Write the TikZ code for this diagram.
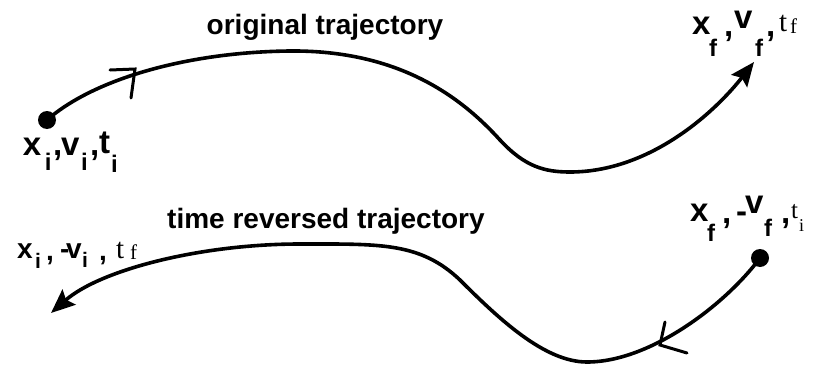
\documentclass[tikz,border=0pt]{standalone}
\usepackage{fontspec}
\setsansfont{Liberation Sans}
\newfontfamily\serfam{Liberation Serif}
\usetikzlibrary{arrows.meta}
\newcommand\BigB{\fontsize{33}{33}\selectfont\sffamily\bfseries}
\newcommand\MidB{\fontsize{28}{28}\selectfont\sffamily\bfseries}
\newcommand\SubB{\fontsize{24}{24}\selectfont\sffamily\bfseries}
\newcommand\SubS{\fontsize{21}{21}\selectfont\sffamily\bfseries}
\newcommand\SerT{\fontsize{29}{29}\selectfont\serfam}
\newcommand\SerM{\fontsize{25}{25}\selectfont\serfam}
\newcommand\SerS{\fontsize{21}{21}\selectfont\serfam}
\newcommand\SerXS{\fontsize{18}{18}\selectfont\serfam}
\tikzset{
  gly/.style={anchor=base west, inner sep=0pt, outer sep=0pt},
  ttl/.style={anchor=base, inner sep=0pt, font=\fontsize{28}{28}\selectfont\sffamily\bfseries},
  traj/.style={line width=3.6pt, line cap=round},
  tiptraj/.style={traj, -{Stealth[length=24pt,width=20pt,inset=4pt]}},
  chev/.style={line width=3pt, line cap=round, line join=miter},
  dotn/.style={circle, fill=black, minimum size=18pt, inner sep=0pt}
}
\begin{document}
\begin{tikzpicture}[x=1pt,y=-1pt]
\useasboundingbox (0,0) rectangle (823,367);
% titles
\node[ttl] (t1) at (325,34) {original trajectory};
\node[ttl] (t2) at (326,228) {time reversed trajectory};
% dots and end points
\node[dotn] (d1) at (47,120) {};
\node[dotn] (d2) at (760,258) {};
\coordinate (e1) at (754,62);
\coordinate (e2) at (51,313);
% original trajectory
\draw[tiptraj] (d1.center) .. controls (95,78) and (190,52) .. (290,51)
  .. controls (400,50) and (462,98) .. (500,140)
  .. controls (525,167) and (545,172) .. (570,172)
  .. controls (650,172) and (715,112) .. (e1);
\draw[chev] (110,70) -- (135,69) -- (131,98);
% time reversed trajectory
\draw[tiptraj] (d2.center) .. controls (725,305) and (650,362) .. (587,362)
  .. controls (545,362) and (500,320) .. (460,280)
  .. controls (420,242) and (380,244) .. (300,244)
  .. controls (200,244) and (100,270) .. (e2);
\draw[chev] (665,322) -- (660,345) -- (687,353);
% label x_i, v_i, t_i
\node[gly,font=\BigB] (a1) at (23,155) {x};
\node[gly,font=\SubB] (a2) at (45,170) {i};
\node[gly,font=\BigB] (a3) at (53,155) {,};
\node[gly,font=\BigB] (a4) at (61,155) {v};
\node[gly,font=\SubB] (a5) at (81,170) {i};
\node[gly,font=\BigB] (a6) at (90,155) {,};
\node[gly,font=\BigB] (a7) at (99,153) {t};
\node[gly,font=\SubB] (a8) at (111,172) {i};
% label x_f, v_f, t_f
\node[gly,font=\BigB] (b1) at (692,34) {x};
\node[gly,font=\SubB] (b2) at (709,56) {f};
\node[gly,font=\BigB] (b3) at (724,36) {,};
\node[gly,font=\BigB] (b4) at (734,28) {v};
\node[gly,font=\SubB] (b5) at (755,56) {f};
\node[gly,font=\BigB] (b6) at (766,36) {,};
\node[gly,font=\SerT] (b7) at (779,31) {t};
\node[gly,font=\SerS] (b8) at (790,33) {f};
% label x_i, -v_i, t_f
\node[gly,font=\MidB] (c1) at (17,258) {x};
\node[gly,font=\SubS] (c2) at (35,268) {i};
\node[gly,font=\MidB] (c3) at (46,260) {,};
\node[gly,font=\MidB] (c4) at (60,258) {-};
\node[gly,font=\MidB] (c5) at (66,258) {v};
\node[gly,font=\SubS] (c6) at (82,267) {i};
\node[gly,font=\MidB] (c7) at (99,260) {,};
\node[gly,font=\SerT] (c8) at (116,258) {t};
\node[gly,font=\SerS] (c9) at (130,259) {f};
% label x_f, -v_f, t_i
\node[gly,font=\BigB] (g1) at (690,221) {x};
\node[gly,font=\SubB] (g2) at (707,241) {f};
\node[gly,font=\BigB] (g3) at (722,223) {,};
\node[gly,font=\BigB] (g4) at (736,222) {-};
\node[gly,font=\BigB] (g5) at (745,213) {v};
\node[gly,font=\SubB] (g6) at (764,236) {f};
\node[gly,font=\BigB] (g7) at (781,223) {,};
\node[gly,font=\SerM] (g8) at (791,218) {t};
\node[gly,font=\SerXS] (g9) at (799,231) {i};
\end{tikzpicture}
\end{document}
